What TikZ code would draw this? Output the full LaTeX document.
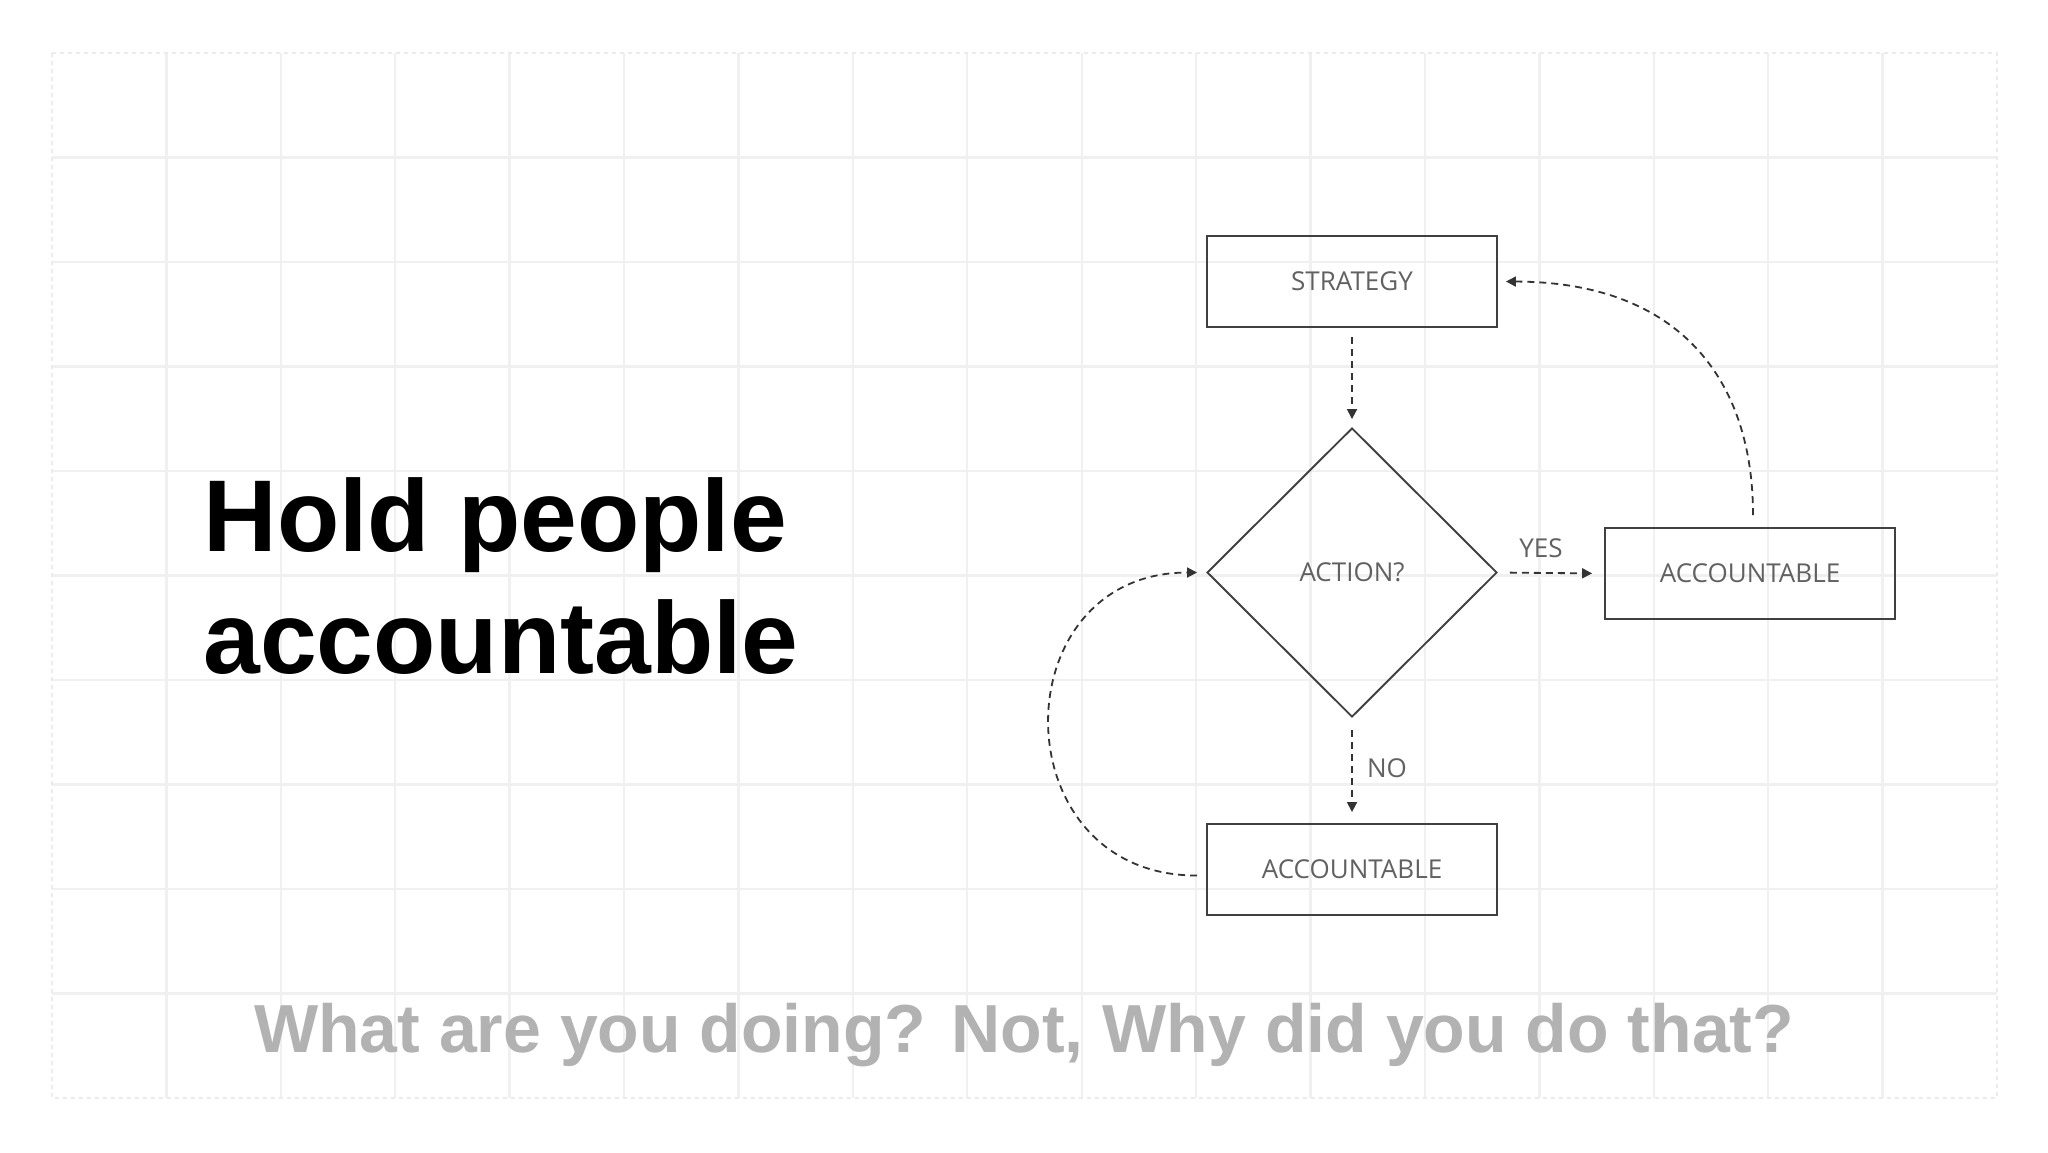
\documentclass[tikz,border=0pt]{standalone}
\usepackage{fontspec}
\setmainfont{Liberation Sans}
\newfontfamily\flowfont{Open Sans}
\usetikzlibrary{shapes.geometric,arrows.meta}

\begin{document}
\begin{tikzpicture}[x=0.5pt,y=-0.5pt,
  gridline/.style={draw=black!6,line width=1.2pt},
  framebox/.style={draw=black!8,line width=0.9pt,dash pattern=on 2pt off 2pt},
  flowtext/.style={font=\flowfont\fontsize{13}{15}\selectfont,text=black!62},
  procbox/.style={flowtext,draw=black!75,line width=0.95pt,minimum width=145pt,minimum height=45.5pt,inner sep=0pt},
  decbox/.style={flowtext,diamond,draw=black!75,line width=0.95pt,minimum width=145pt,minimum height=144.5pt,inner sep=0pt},
  conn/.style={draw=black!80,line width=0.9pt,dash pattern=on 3.5pt off 2.5pt,-{Triangle[length=5pt,width=5pt]}},
  lbl/.style={flowtext,inner sep=0pt},
  ]
\useasboundingbox (0,0) rectangle (2048,1152);
\fill[white] (0,0) rectangle (2048,1152);

% background grid
\foreach \i in {1,...,16} \draw[gridline] ({52+\i*114.41},53) -- ({52+\i*114.41},1098);
\foreach \j in {1,...,9} \draw[gridline] (52,{53+\j*104.5}) -- (1997,{53+\j*104.5});
\draw[framebox] (52,53) rectangle (1997,1098);

% title and subtitle
\node[anchor=base west,inner sep=0pt,font=\bfseries\fontsize{51}{61}\selectfont] (title1) at (203,551) {Hold people};
\node[anchor=base west,inner sep=0pt,font=\bfseries\fontsize{51}{61}\selectfont] (title2) at (203,673) {accountable};
\node[anchor=base,inner sep=0pt,font=\bfseries\fontsize{34}{40}\selectfont,text=black!30] (subtitle) at (1024,1052) {What are you doing? Not, Why did you do that?};

% flowchart nodes
\node[procbox] (strategy) at (1352,281.5) {STRATEGY};
\node[decbox] (action) at (1352,572.5) {ACTION?};
\node[procbox] (accyes) at (1750,573.5) {ACCOUNTABLE};
\node[procbox] (accno) at (1352,869.5) {ACCOUNTABLE};

% connectors
\draw[conn,shorten <=4.5pt,shorten >=4pt] (strategy.south) -- (action.north);
\draw[conn,shorten <=6pt,shorten >=6pt] (action.east) -- (accyes.west);
\draw[conn,shorten <=6pt,shorten >=5.5pt] (action.south) -- (accno.north);
\draw[conn,shorten <=6pt,shorten >=4pt] ([xshift=1.5pt]accyes.north) .. controls (1753,380) and (1680,282) .. (strategy.east);
\draw[conn,shorten <=4.5pt,shorten >=4.5pt] ([yshift=-3pt]accno.west) .. controls (1000,876) and (1000,572.5) .. (action.west);

% labels
\node[lbl,anchor=base] (yes) at (1541,557) {YES};
\node[lbl,anchor=base] (no) at (1387,777) {NO};
\end{tikzpicture}
\end{document}
